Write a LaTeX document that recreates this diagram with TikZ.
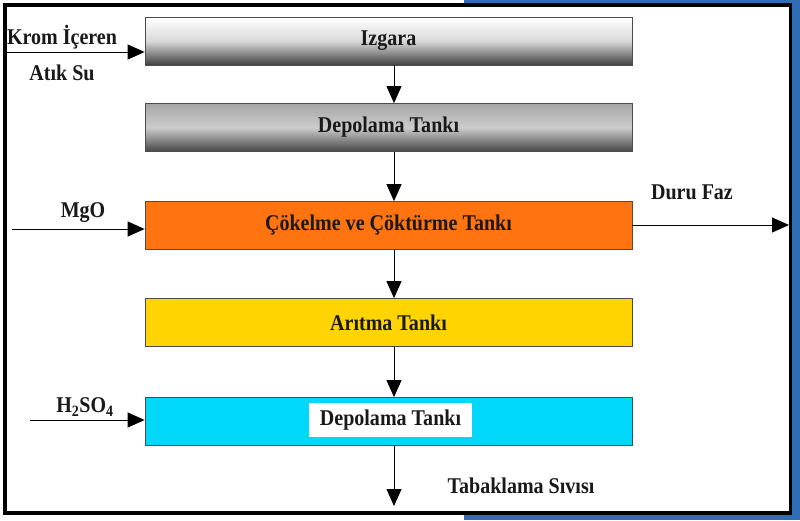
\documentclass[tikz,border=0pt]{standalone}
\usepackage{fontspec}
\setmainfont{Liberation Serif}[FakeStretch=0.89]
\usepackage{tikz}
\usetikzlibrary{calc, positioning, arrows.meta}

\definecolor{bluebg}{HTML}{2F6DB5}
\definecolor{orangetank}{HTML}{FF7410}
\definecolor{yellowtank}{HTML}{FFD400}
\definecolor{cyantank}{HTML}{00D8FA}

\begin{document}
\begin{tikzpicture}[x=1pt, y=-1pt,
    every node/.style={font=\bfseries\fontsize{22.5}{26}\selectfont, text=black!90},
    tank/.style={draw=gray!60!black, line width=0.8pt, minimum width=487pt, minimum height=48pt, inner sep=0pt},
    arr/.style={line width=0.9pt, -{Triangle[length=17pt, width=15pt]}}]
  % Page and frame
  \useasboundingbox (0,0) rectangle (800,520);
  \fill[white] (0,0) rectangle (800,520);
  \fill[bluebg] (464,0) rectangle (800,520);
  \draw[line width=3.5pt, fill=white] (5,5) rectangle (790.5,513);

  % Tanks
  \node[tank, top color=white, bottom color=gray!50!black, middle color=gray!30] (izgara) at (388.5,41) {Izgara};
  \node[tank, top color=gray!70, bottom color=gray!55!black, middle color=gray!40] (depo1) at (388.5,127.5) {Depolama Tankı};
  \node[tank, fill=orangetank] (cokelme) at (388.5,225.5) {Çökelme ve Çöktürme Tankı};
  \node[tank, fill=yellowtank] (aritma) at (388.5,322.5) {Arıtma Tankı};
  \node[tank, fill=cyantank] (depo2) at (388.5,421.5) {};
  \node[fill=white, minimum width=163pt, minimum height=34pt, inner sep=0pt] (depo2text) at (390.5,420) {Depolama Tankı};

  % Main flow
  \coordinate (axis) at (394,0);
  \foreach \a/\b in {izgara/depo1, depo1/cokelme, cokelme/aritma, aritma/depo2}
    \draw[arr] (\a.south -| axis) -- (\b.north -| axis);
  \coordinate (out) at (394,506);
  \draw[arr] (depo2.south -| axis) -- (out);

  % Inputs and outputs
  \coordinate (krom) at (6,52);
  \coordinate (mgo) at (12,229);
  \coordinate (acid) at (30,420);
  \coordinate (duru) at (789,225);
  \draw[arr] (krom) -- (krom -| izgara.west);
  \draw[arr] (mgo) -- (mgo -| cokelme.west);
  \draw[arr] (acid) -- (acid -| depo2.west);
  \draw[arr] (cokelme.east |- duru) -- (duru);

  % Labels
  \node (kromtext) at (62,37) {Krom İçeren};
  \node (atiktext) at (62,73) {Atık Su};
  \node (mgotext) at (83,213) {MgO};
  \node (acidtext) at (85,407) {H\textsubscript{2}SO\textsubscript{4}};
  \node (durutext) at (692,192) {Duru Faz};
  \node (outtext) at (521,486) {Tabaklama Sıvısı};
\end{tikzpicture}
\end{document}
